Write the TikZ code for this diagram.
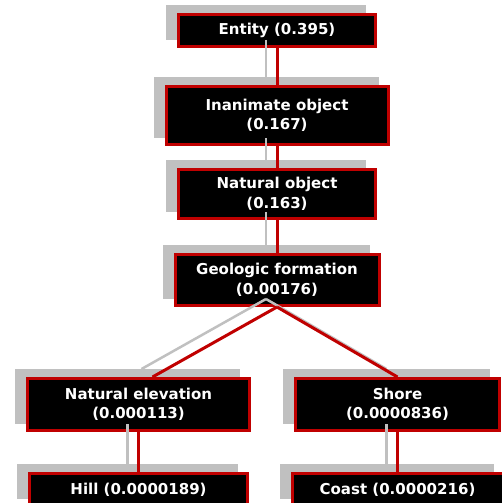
\documentclass[tikz,border=0pt]{standalone}
\usepackage{fontspec}
\setmainfont{DejaVu Sans}
\usetikzlibrary{shadows}
\definecolor{boxred}{RGB}{192,0,0}
\definecolor{shadegrey}{RGB}{192,192,192}
\tikzset{
  concept/.style={draw=boxred, line width=3pt, fill=black, text=white,
    font=\bfseries\fontsize{15}{19.5}\selectfont, align=center, inner sep=0pt,
    general shadow={shadow xshift=-11pt, shadow yshift=8pt, fill=shadegrey, draw=shadegrey}},
  shadowshift/.style={shift={(-11,-8)}},
  link/.style={draw=boxred, line width=3pt},
  greylink/.style={draw=shadegrey, line width=2.5pt}
}
\begin{document}
\begin{tikzpicture}[x=1pt,y=-1pt]
\useasboundingbox (0,0) rectangle (502,503);
% concept hierarchy
\node[concept, minimum width=197pt, minimum height=32pt] (entity) at (277,30.5) {Entity (0.395)};
\node[concept, minimum width=222pt, minimum height=58pt] (inanimate) at (277,115.5) {Inanimate object\\(0.167)};
\node[concept, minimum width=197pt, minimum height=49pt] (natobj) at (277,194) {Natural object\\(0.163)};
\node[concept, minimum width=204pt, minimum height=51pt] (geoform) at (277,280) {Geologic formation\\(0.00176)};
\node[concept, minimum width=222pt, minimum height=52pt] (natelev) at (138.5,404.5) {Natural elevation\\(0.000113)};
\node[concept, minimum width=204pt, minimum height=52pt] (shore) at (397.5,404.5) {Shore\\(0.0000836)};
\node[concept, minimum width=218pt, minimum height=32pt] (hill) at (138.5,489.5) {Hill (0.0000189)};
\node[concept, minimum width=211pt, minimum height=32pt] (coast) at (397.5,489.5) {Coast (0.0000216)};
% shadow links
\draw[greylink] ([shadowshift]entity.south) -- ([shadowshift]inanimate.north);
\draw[greylink] ([shadowshift]inanimate.south) -- ([shadowshift]natobj.north);
\draw[greylink] ([shadowshift]natobj.south) -- ([shadowshift]geoform.north);
\draw[greylink] ([shadowshift]geoform.south) -- ([shadowshift,xshift=14pt]natelev.north);
\draw[greylink] ([shadowshift]geoform.south) -- ([shadowshift]shore.north);
\draw[greylink] ([shadowshift]natelev.south) -- ([shadowshift]hill.north);
\draw[greylink] ([shadowshift]shore.south) -- ([shadowshift]coast.north);
% links
\draw[link] (entity.south) -- (inanimate.north);
\draw[link] (inanimate.south) -- (natobj.north);
\draw[link] (natobj.south) -- (geoform.north);
\draw[link] (geoform.south) -- ([xshift=14pt]natelev.north);
\draw[link] (geoform.south) -- (shore.north);
\draw[link] (natelev.south) -- (hill.north);
\draw[link] (shore.south) -- (coast.north);
\end{tikzpicture}
\end{document}
